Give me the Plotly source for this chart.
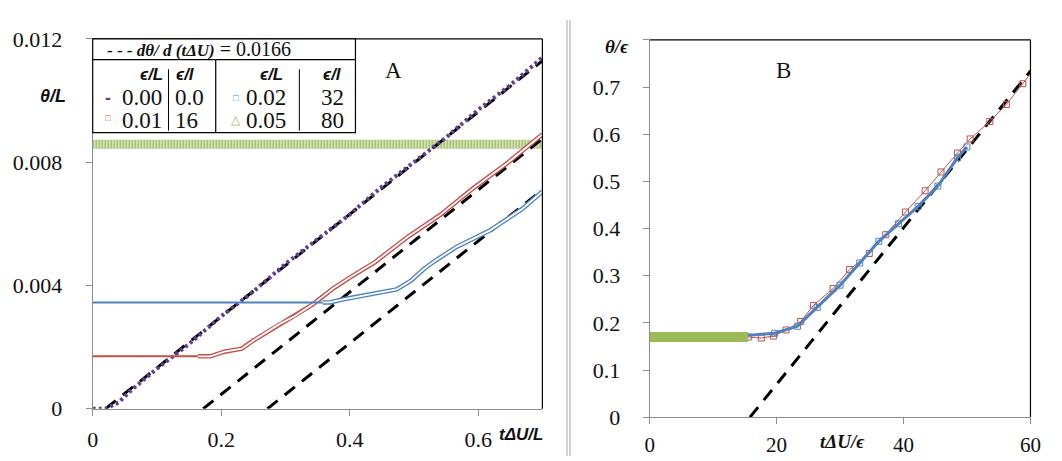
import plotly.graph_objects as go

W, H = 1062, 461

# ---- panel A : theta/L against t dU/L ----
a_pur_x = [0, 0.02, 0.04, 0.06, 0.1, 0.15, 0.2, 0.25, 0.3, 0.35, 0.4, 0.45, 0.5, 0.55, 0.6, 0.65, 0.7]
a_pur_y = [0, 0, 0.0002, 0.0006, 0.0013, 0.0021, 0.0030, 0.0038, 0.0047, 0.0055, 0.0063,
           0.0072, 0.0080, 0.0088, 0.0097, 0.0105, 0.0114]

a_red_x = [0, 0.164, 0.183, 0.205, 0.232, 0.249, 0.27, 0.292, 0.314, 0.342, 0.357, 0.374,
           0.402, 0.439, 0.49, 0.541, 0.592, 0.643, 0.694, 0.7]
a_red_y = [0.0017, 0.0017, 0.0017, 0.00185, 0.00195, 0.0022, 0.00246, 0.00276, 0.0030, 0.00338,
           0.00362, 0.0039, 0.00428, 0.00475, 0.00557, 0.00629, 0.00715, 0.00793, 0.0088, 0.0089]

a_blue_x = [0, 0.358, 0.369, 0.39, 0.423, 0.451, 0.473, 0.495, 0.516, 0.533, 0.567, 0.618, 0.669, 0.7]
a_blue_y = [0.00345, 0.00345, 0.00345, 0.00355, 0.00367, 0.00377, 0.00387, 0.00415, 0.00454,
            0.0048, 0.00526, 0.00578, 0.00649, 0.00705]

a_green_x = [0, 0.7]
a_green_y = [0.00858, 0.00858]

# slope 0.0166 guide lines
a_fit1_x, a_fit1_y = [0.02, 0.7], [0, 0.01129]
a_fit2_x, a_fit2_y = [0.172, 0.7], [0, 0.00876]
a_fit3_x, a_fit3_y = [0.272, 0.7], [0, 0.0071]

# ---- panel B : theta/eps against t dU/eps ----
b_red_x = [15.6, 17.6, 19.5, 21.5, 23.8, 25.8, 28.9, 31.5, 34.6, 37.2, 40.3, 43.4, 45.9,
           48.5, 50.5, 53.6, 56.2, 58.8, 60.3]
b_red_y = [0.17, 0.168, 0.172, 0.185, 0.203, 0.237, 0.273, 0.313, 0.347, 0.387, 0.435, 0.48,
           0.52, 0.56, 0.59, 0.627, 0.663, 0.707, 0.733]

b_blue_x = [15, 19.7, 23.3, 26.4, 30, 33.1, 36.1, 39.2, 42.3, 45.4, 48.5, 50]
b_blue_y = [0.173, 0.178, 0.193, 0.233, 0.28, 0.327, 0.373, 0.41, 0.447, 0.49, 0.55, 0.573]

b_green_x = [0, 15.5]
b_green_y = [0.17, 0.17]

b_fit_x, b_fit_y = [15.8, 60], [0, 0.734]

a_yticks = [0, 0.004, 0.008, 0.012]
a_xticks = [0, 0.2, 0.4, 0.6]
b_yticks = [0, 0.1, 0.2, 0.3, 0.4, 0.5, 0.6, 0.7, 0.8]
b_ytext = ["0", "0.1", "0.2", "0.3", "0.4", "0.5", "0.6", "0.7", ""]
b_xticks = [0, 20, 40, 60]

RED = "#C0504D"
BLUE = "#4F81BD"
GREEN = "#9BBB59"
PURPLE = "#60418E"
SERIF = "Liberation Serif"
SANS = "Liberation Sans"
DASH = "13px,9px"


def px(x):
    return x / W


def py(y):
    return 1 - y / H


fig = go.Figure()


def tube(x, y, color, start, ax, ay, outer=4.5, inner=1.8):
    # a hollow band imitating the run of overlapping open squares
    fig.add_trace(go.Scatter(x=x, y=y, mode="lines", line=dict(color=color, width=2),
                             xaxis=ax, yaxis=ay))
    fig.add_trace(go.Scatter(x=x[start:], y=y[start:], mode="lines",
                             line=dict(color=color, width=outer), xaxis=ax, yaxis=ay))
    fig.add_trace(go.Scatter(x=x[start:], y=y[start:], mode="lines",
                             line=dict(color="white", width=inner), xaxis=ax, yaxis=ay))


# panel A
fig.add_trace(go.Scatter(x=a_green_x, y=a_green_y, mode="lines",
                         line=dict(color="#D3E2B2", width=9), xaxis="x", yaxis="y"))
fig.add_trace(go.Scatter(x=a_green_x, y=a_green_y, mode="lines",
                         line=dict(color="rgba(130,165,70,0.75)", width=9, dash="1px,2px"),
                         xaxis="x", yaxis="y"))
for fx, fy in [(a_fit1_x, a_fit1_y), (a_fit2_x, a_fit2_y), (a_fit3_x, a_fit3_y)]:
    fig.add_trace(go.Scatter(x=fx, y=fy, mode="lines",
                             line=dict(color="black", width=3, dash=DASH), xaxis="x", yaxis="y"))
fig.add_trace(go.Scatter(x=a_pur_x, y=a_pur_y, mode="lines",
                         line=dict(color=PURPLE, width=4, dash="3px,3px"), xaxis="x", yaxis="y"))
tube(a_red_x, a_red_y, RED, 1, "x", "y")
tube(a_blue_x, a_blue_y, BLUE, 1, "x", "y")

# panel B
fig.add_trace(go.Scatter(x=b_fit_x, y=b_fit_y, mode="lines",
                         line=dict(color="black", width=3, dash=DASH), xaxis="x2", yaxis="y2"))
fig.add_trace(go.Scatter(x=b_red_x, y=b_red_y, mode="lines+markers", cliponaxis=False,
                         line=dict(color=RED, width=1),
                         marker=dict(symbol="square-open", color=RED, size=6, line=dict(width=1)),
                         xaxis="x2", yaxis="y2"))
fig.add_trace(go.Scatter(x=b_blue_x, y=b_blue_y, mode="lines+markers",
                         line=dict(color=BLUE, width=3),
                         marker=dict(symbol="square-open", color=BLUE, size=6, line=dict(width=1)),
                         xaxis="x2", yaxis="y2"))
fig.add_trace(go.Scatter(x=b_green_x, y=b_green_y, mode="lines",
                         line=dict(color=GREEN, width=10), xaxis="x2", yaxis="y2"))

tickfont = dict(family=SERIF, size=22, color="#111")
axis_common = dict(showgrid=False, zeroline=False, showline=True, linecolor="#8c8c8c",
                   ticks="outside", tickcolor="#8c8c8c", ticklen=6, tickfont=tickfont)

fig.update_layout(
    width=W, height=H,
    margin=dict(l=0, r=0, t=0, b=0),
    paper_bgcolor="white", plot_bgcolor="white",
    showlegend=False,
    xaxis=dict(domain=[px(80), px(537)], range=[0, 0.7], tickvals=a_xticks,
               ticktext=["0", "0.2", "0.4", "0.6"], ticklabelstandoff=5, anchor="y", **axis_common),
    yaxis=dict(domain=[py(411), py(20)], range=[0, 0.012], tickvals=a_yticks,
               ticktext=["0", "0.004", "0.008", "0.012"], ticklabelstandoff=19, anchor="x", **axis_common),
    xaxis2=dict(domain=[px(646), px(1033)], range=[0, 60], tickvals=b_xticks,
                ticklabelstandoff=3, anchor="y2", **dict(axis_common, tickfont=dict(tickfont, size=21))),
    yaxis2=dict(domain=[py(420), py(21)], range=[0, 0.8], tickvals=b_yticks, ticktext=b_ytext,
                ticklabelstandoff=18, anchor="x2", **axis_common),
)

shapes = []
# top/right borders of the plot areas
for (l, t, r, b) in [(80, 20, 537, 411), (646, 21, 1033, 420)]:
    shapes.append(dict(type="line", xref="paper", yref="paper", x0=px(l), x1=px(r), y0=py(t), y1=py(t),
                       line=dict(color="black", width=1.2)))
    shapes.append(dict(type="line", xref="paper", yref="paper", x0=px(r), x1=px(r), y0=py(t), y1=py(b),
                       line=dict(color="black", width=1.2)))
# double separator between panels
for sx in [562, 565]:
    shapes.append(dict(type="line", xref="paper", yref="paper", x0=px(sx), x1=px(sx), y0=0, y1=1,
                       line=dict(color="#a6a6a6", width=1)))
# legend table
shapes.append(dict(type="rect", xref="paper", yref="paper", x0=px(80), x1=px(347), y0=py(119), y1=py(20),
                   line=dict(color="black", width=1.2), fillcolor="white", layer="above"))
shapes.append(dict(type="line", xref="paper", yref="paper", x0=px(80), x1=px(347), y0=py(42), y1=py(42),
                   line=dict(color="black", width=1.2)))
shapes.append(dict(type="line", xref="paper", yref="paper", x0=px(205), x1=px(205), y0=py(42), y1=py(119),
                   line=dict(color="black", width=1.2)))
for sx in [157, 290]:
    shapes.append(dict(type="line", xref="paper", yref="paper", x0=px(sx), x1=px(sx), y0=py(52), y1=py(117),
                       line=dict(color="black", width=1)))
fig.update_layout(shapes=shapes)


def note(text, x, y, size, family=SERIF, color="#111", xanchor="center"):
    fig.add_annotation(text=text, x=px(x), y=py(y), xref="paper", yref="paper", showarrow=False,
                       xanchor=xanchor, yanchor="middle", font=dict(family=family, size=size, color=color))


# axis titles and panel labels
note("<b><i>θ/L</i></b>", 40, 80, 18, SANS)
note("<b><i>tΔU/L</i></b>", 515, 438, 17, SANS)
note("A", 386, 53, 23)
note("<b><i>θ/ϵ</i></b>", 613, 28, 19)
note("<b><i>tΔU/ϵ</i></b>", 842, 446, 19)
note("B", 782, 53, 23)

# legend contents
note("<b>- - -</b> <b><i>dθ/ d (tΔU)</i></b><span style='font-size:20px'> = 0.0166</span>",
     92, 31, 17, xanchor="left")
note("<b><i>ϵ/L</i></b>", 153, 58, 17, SANS, xanchor="right")
note("<b><i>ϵ/l</i></b>", 163, 58, 17, SANS, xanchor="left")
note("<b><i>ϵ/L</i></b>", 262, 58, 17, SANS)
note("<b><i>ϵ/l</i></b>", 324, 58, 17, SANS)
note("<b>-</b>", 96, 82, 18, SANS, color=PURPLE)
note("□", 96, 104, 9, SANS, color=RED)
note("□", 226, 82, 9, SANS, color=BLUE)
note("△", 226, 106, 12, SANS, color=GREEN)
note("0.00", 152, 82, 23, xanchor="right")
note("0.01", 152, 106, 23, xanchor="right")
note("0.0", 162, 82, 23, xanchor="left")
note("16", 162, 106, 23, xanchor="left")
note("0.02", 278, 82, 23, xanchor="right")
note("0.05", 278, 106, 23, xanchor="right")
note("32", 324, 82, 23)
note("80", 324, 106, 23)

fig.write_html("out.html")
